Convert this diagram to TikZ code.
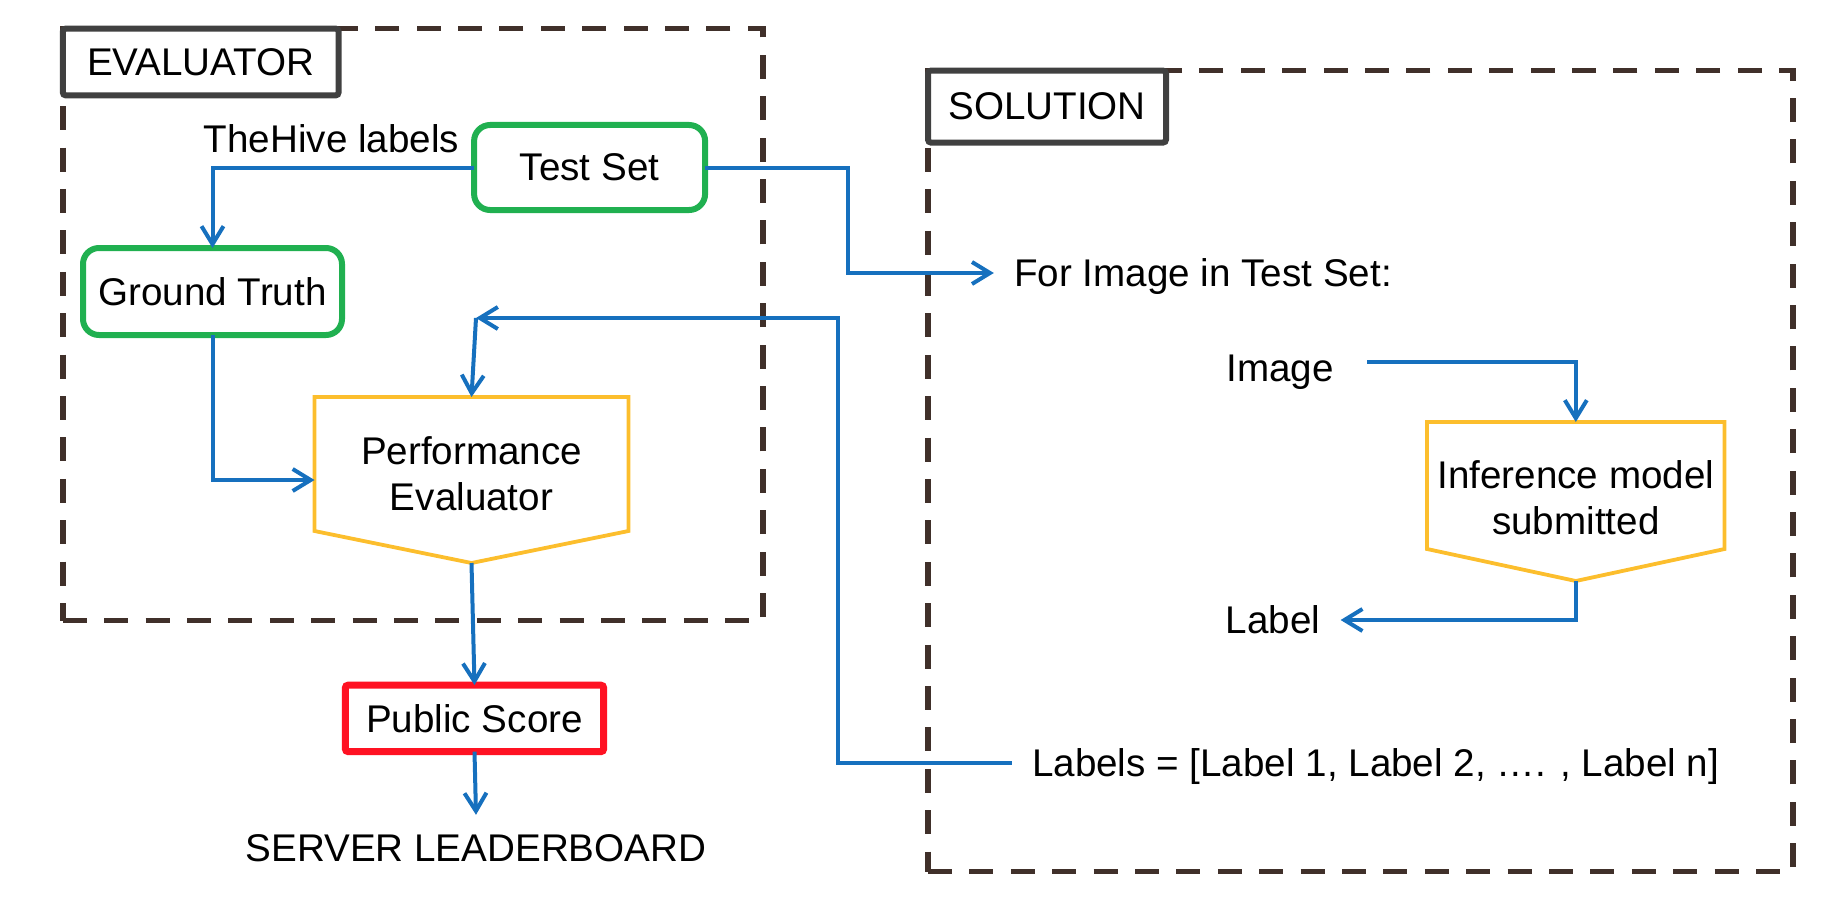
\documentclass[tikz,border=0pt]{standalone}
\usepackage{fontspec}
\setmainfont{Liberation Sans}
\usetikzlibrary{positioning,arrows.meta}
\definecolor{flowblue}{RGB}{22,112,190}
\definecolor{boxgreen}{RGB}{32,176,80}
\definecolor{boxgold}{RGB}{252,190,45}
\definecolor{boxred}{RGB}{255,18,35}
\definecolor{frameline}{RGB}{64,48,42}
\definecolor{tagline}{RGB}{64,64,64}

\begin{document}
\begin{tikzpicture}[>={Straight Barb[length=9pt,width=11pt]}, font=\fontsize{19.3pt}{23pt}\selectfont,
	flow/.style={->, draw=flowblue, line width=2pt},
	dashframe/.style={draw=frameline, line width=2.7pt, dash pattern=on 12pt off 8.7pt},
	titlebox/.style={draw=tagline, fill=white, line width=3pt, rounded corners=1.5pt, outer sep=0pt},
	greenbox/.style={draw=boxgreen, line width=3pt, rounded corners=8pt, outer sep=0pt},
	redbox/.style={draw=boxred, fill=white, line width=3.5pt, rounded corners=1.5pt, outer sep=0pt},
	pent/.style={outer sep=0pt, inner sep=0pt},
	goldline/.style={draw=boxgold, line width=1.9pt},
	txt/.style={inner xsep=10pt, inner ysep=0pt, text height=13.8pt, text depth=0pt},
	bodytxt/.style={align=center, inner sep=0pt}]
		\useasboundingbox (0pt, 0pt) rectangle (923pt, -460pt);
		\draw (206.45pt, -162.3pt)node[dashframe, minimum width=350.1pt, minimum height=296pt](evframe){};
		\draw (680.25pt, -235.55pt)node[dashframe, minimum width=432.5pt, minimum height=400.5pt](solframe){};
		\draw (100.35pt, -31pt)node[titlebox, minimum width=137.9pt, minimum height=33.4pt](evtag){EVALUATOR};
		\draw (523.5pt, -53.3pt)node[titlebox, minimum width=119pt, minimum height=36pt](soltag){SOLUTION};
		\draw (294.8pt, -83.75pt)node[greenbox, minimum width=115.5pt, minimum height=42.5pt](ts){Test Set};
		\draw (165.75pt, -69.25pt)node[txt](hive){TheHive labels};
		\draw (106.25pt, -145.75pt)node[greenbox, minimum width=129.5pt, minimum height=43.5pt](gt){Ground Truth};
		\draw (235.75pt, -232pt)node[pent, minimum width=157pt, minimum height=67pt](pe){};
		\draw (235.75pt, -236.7pt)node[bodytxt](petext){Performance\\Evaluator};
		\draw (237.25pt, -359.2pt)node[redbox, minimum width=129.2pt, minimum height=33.3pt](ps){Public Score};
		\draw (238pt, -424pt)node[txt, inner ysep=9.5pt](srv){SERVER LEADERBOARD};
		\draw (601.5pt, -136.5pt)node[txt](forimg){For Image in Test Set:};
		\draw (640pt, -184pt)node[txt](img){Image};
		\draw (787.9pt, -242.75pt)node[pent, minimum width=148.75pt, minimum height=63.5pt](inf){};
		\draw (787.9pt, -248.75pt)node[bodytxt](inftext){Inference model\\submitted};
		\draw (636.5pt, -310pt)node[txt](lab){Label};
		\draw (687.8pt, -381.4pt)node[txt](labs){Labels = [Label 1, Label 2, …. , Label n]};
		\coordinate (petip) at ([yshift=-16pt]pe.south);
		\coordinate (inftip) at ([yshift=-16pt]inf.south);
		\coordinate (ts1) at (424pt, -136.5pt);
		\coordinate (fb1) at (419pt, -159pt);
		\coordinate (fb2) at (238pt, -159pt);
		\draw[goldline] (pe.north west) -- (pe.north east) -- (pe.south east) -- (petip) -- (pe.south west) -- cycle;
		\draw[goldline] (inf.north west) -- (inf.north east) -- (inf.south east) -- (inftip) -- (inf.south west) -- cycle;
		\draw[flow] (ts.west) -| (gt.north);
		\draw[flow] (ts.east) -| (ts1) -- (forimg.west);
		\draw[flow] (gt.south) |- ([yshift=-8pt]pe.west);
		\draw[flow] (labs.west) -| (fb1) -- (fb2);
		\draw[flow] (fb2) -- (pe.north);
		\draw[flow] (petip) -- (ps.north);
		\draw[flow] (ps.south) -- (srv.north);
		\draw[flow] ([xshift=6.5pt, yshift=3pt]img.east) -| (inf.north);
		\draw[flow] (inftip) |- (lab.east);
\end{tikzpicture}
\end{document}
